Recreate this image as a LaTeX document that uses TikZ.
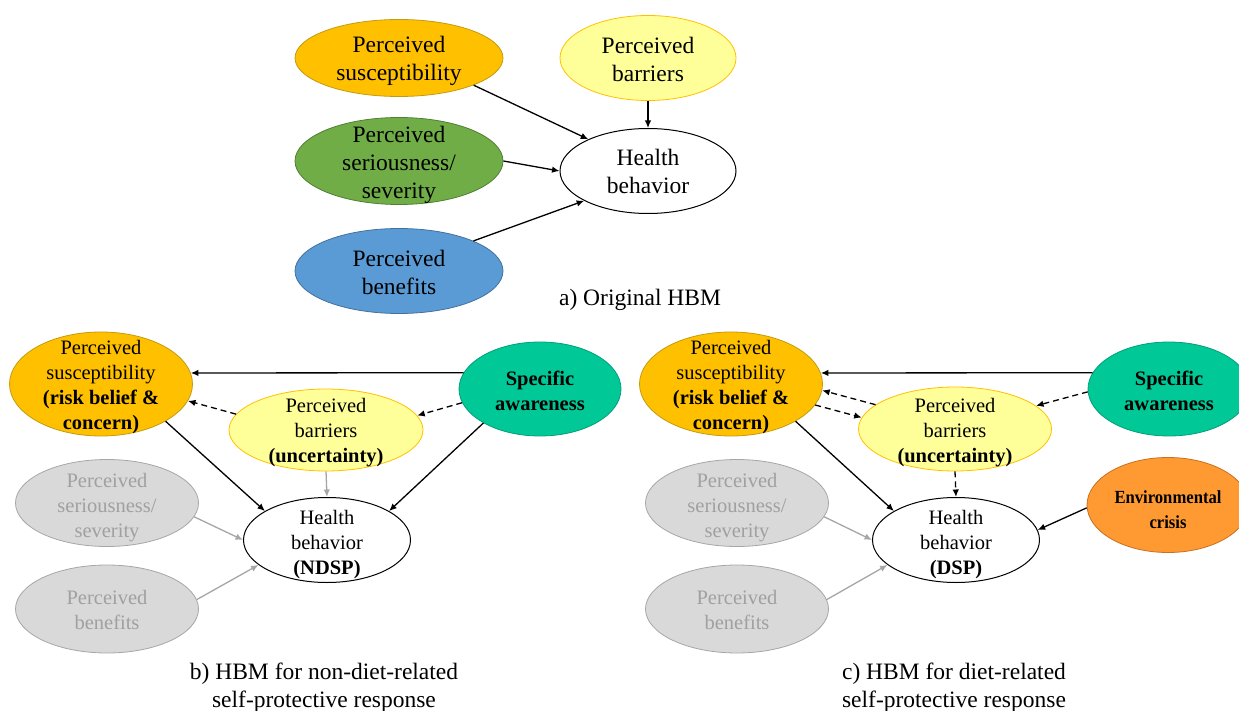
\documentclass[tikz,border=0pt]{standalone}
\usepackage{fontspec}
\setmainfont{Liberation Serif}
\usepackage{graphicx}
\usetikzlibrary{shapes.geometric,arrows.meta}
\definecolor{cSus}{HTML}{FFC000}
\definecolor{cSusD}{HTML}{C49A10}
\definecolor{cSer}{HTML}{70AD47}
\definecolor{cSerD}{HTML}{507E32}
\definecolor{cBen}{HTML}{5B9BD5}
\definecolor{cBenD}{HTML}{41719C}
\definecolor{cBar}{HTML}{FFFF99}
\definecolor{cBarD}{HTML}{FFC000}
\definecolor{cSpe}{HTML}{00C896}
\definecolor{cSpeD}{HTML}{00A07A}
\definecolor{cEnv}{HTML}{FF9A33}
\definecolor{cEnvD}{HTML}{C8701E}
\definecolor{cGry}{HTML}{D9D9D9}
\definecolor{cGryD}{HTML}{A6A6A6}
\definecolor{cGryT}{HTML}{A0A0A0}
\begin{document}
\begin{tikzpicture}[x=1pt,y=-1pt,
  ell/.style={ellipse, inner sep=0pt, line width=0.8pt},
  sus/.style={ell, fill=cSus, draw=cSusD},
  ser/.style={ell, fill=cSer, draw=cSerD},
  ben/.style={ell, fill=cBen, draw=cBenD},
  bar/.style={ell, fill=cBar, draw=cBarD},
  spe/.style={ell, fill=cSpe, draw=cSpeD},
  env/.style={ell, fill=cEnv, draw=cEnvD},
  gry/.style={ell, fill=cGry, draw=cGryD},
  hb/.style={ell, fill=white, draw=black, line width=1pt},
  ta/.style={align=center, inner sep=0pt, font=\fontsize{23.5}{28}\selectfont},
  tb/.style={align=center, inner sep=0pt, font=\fontsize{20.5}{25}\selectfont},
  tg/.style={tb, text=cGryT},
  arr/.style={-{Latex[length=7.5pt,width=6.5pt]}, line width=1.3pt, draw=black},
  garr/.style={arr, draw=cGryD},
  dsh/.style={arr, dash pattern=on 6pt off 4pt},
]
\useasboundingbox (0,0) rectangle (1239,711);

% ---------- a) Original HBM ----------
\node[sus, minimum width=208pt, minimum height=77pt] (a-sus) at (399,58) {};
\node[ta] (a-sus-t) at (399,61) {Perceived\\susceptibility};
\node[bar, minimum width=176pt, minimum height=85pt] (a-bar) at (648,58) {};
\node[ta] (a-bar-t) at (648,59) {Perceived\\barriers};
\node[ser, minimum width=208pt, minimum height=87pt] (a-ser) at (399,161) {};
\node[ta] (a-ser-t) at (399,165) {Perceived\\seriousness/\\severity};
\node[ben, minimum width=208pt, minimum height=85pt] (a-ben) at (399,271) {};
\node[ta] (a-ben-t) at (399,272) {Perceived\\benefits};
\node[hb, minimum width=176pt, minimum height=85pt] (a-hb) at (648,171) {};
\node[ta] (a-hb-t) at (648,171) {Health\\behavior};
\node[ta] (a-cap) at (640,300) {a) Original HBM};

\draw[arr] (a-sus.-20) -- (a-hb.152);
\draw[arr] (a-ser.east) -- (a-hb.west);
\draw[arr] (a-ben.22) -- (a-hb.205);
\draw[arr] (a-bar.south) -- (a-hb.north);

% ---------- b) non-diet-related ----------
\node[sus, minimum width=183pt, minimum height=104pt] (b-sus) at (101,384) {};
\node[tb] (b-sus-t) at (101,387) {Perceived\\susceptibility\\\textbf{(risk belief \&}\\\textbf{concern)}};
\node[bar, minimum width=194pt, minimum height=82pt] (b-bar) at (326,430) {};
\node[tb] (b-bar-t) at (326,433) {Perceived\\barriers\\\textbf{(uncertainty)}};
\node[spe, minimum width=162pt, minimum height=94pt] (b-spe) at (540,389) {};
\node[tb] (b-spe-t) at (540,391) {\textbf{Specific}\\\textbf{awareness}};
\node[gry, minimum width=183pt, minimum height=87pt] (b-ser) at (107,503) {};
\node[tg] (b-ser-t) at (107,508) {Perceived\\seriousness/\\severity};
\node[gry, minimum width=183pt, minimum height=88pt] (b-ben) at (107,609) {};
\node[tg] (b-ben-t) at (107,610) {Perceived\\benefits};
\node[hb, minimum width=167pt, minimum height=85pt] (b-hb) at (327,540) {};
\node[tb] (b-hb-t) at (327,545) {Health\\behavior\\\textbf{(NDSP)}};
\node[ta] (b-cap) at (324,688) {b) HBM for non-diet-related\\self-protective response};

\draw[arr] (b-spe.168) -- (b-sus.7);
\draw[dsh] (b-bar.170) -- (b-sus.-11);
\draw[dsh] (b-spe.190) -- (b-bar.9);
\draw[arr] (b-spe.211) -- (b-hb.25);
\draw[arr] (b-sus.-30) -- (b-hb.155);
\draw[garr] (b-bar.south) -- (b-hb.north);
\draw[garr] (b-ser.-9) -- (b-hb.west);
\draw[garr] (b-ben.6) -- (b-hb.200);

% ---------- c) diet-related ----------
\node[sus, minimum width=183pt, minimum height=104pt] (c-sus) at (731,384) {};
\node[tb] (c-sus-t) at (731,387) {Perceived\\susceptibility\\\textbf{(risk belief \&}\\\textbf{concern)}};
\node[bar, minimum width=193pt, minimum height=84pt] (c-bar) at (955,429) {};
\node[tb] (c-bar-t) at (955,433) {Perceived\\barriers\\\textbf{(uncertainty)}};
\node[spe, minimum width=162pt, minimum height=94pt] (c-spe) at (1169,389) {};
\node[tb] (c-spe-t) at (1169,391) {\textbf{Specific}\\\textbf{awareness}};
\node[env, minimum width=162pt, minimum height=95pt] (c-env) at (1168,505) {};
\node[tb] (c-env-t) at (1168,510) {\scalebox{0.9}[1]{\fontsize{18.5}{25}\selectfont\textbf{Environmental}}\\\scalebox{0.9}[1]{\fontsize{18.5}{25}\selectfont\textbf{crisis}}};
\node[gry, minimum width=183pt, minimum height=87pt] (c-ser) at (737,503) {};
\node[tg] (c-ser-t) at (737,508) {Perceived\\seriousness/\\severity};
\node[gry, minimum width=183pt, minimum height=88pt] (c-ben) at (737,609) {};
\node[tg] (c-ben-t) at (737,610) {Perceived\\benefits};
\node[hb, minimum width=167pt, minimum height=85pt] (c-hb) at (956,540) {};
\node[tb] (c-hb-t) at (956,545) {Health\\behavior\\\textbf{(DSP)}};
\node[ta] (c-cap) at (954,688) {c) HBM for diet-related\\self-protective response};

\draw[arr] (c-spe.168) -- (c-sus.7);
\draw[dsh] (c-spe.182) -- (c-bar.16);
\draw[dsh] (c-bar.163) -- (c-sus.-4);
\draw[dsh] (c-sus.-14) -- (c-bar.173);
\draw[arr] (c-sus.-30) -- (c-hb.155);
\draw[dsh] (c-bar.south) -- (c-hb.north);
\draw[arr] (c-env.182) -- (c-hb.7);
\draw[garr] (c-ser.-9) -- (c-hb.west);
\draw[garr] (c-ben.6) -- (c-hb.200);
\end{tikzpicture}
\end{document}
